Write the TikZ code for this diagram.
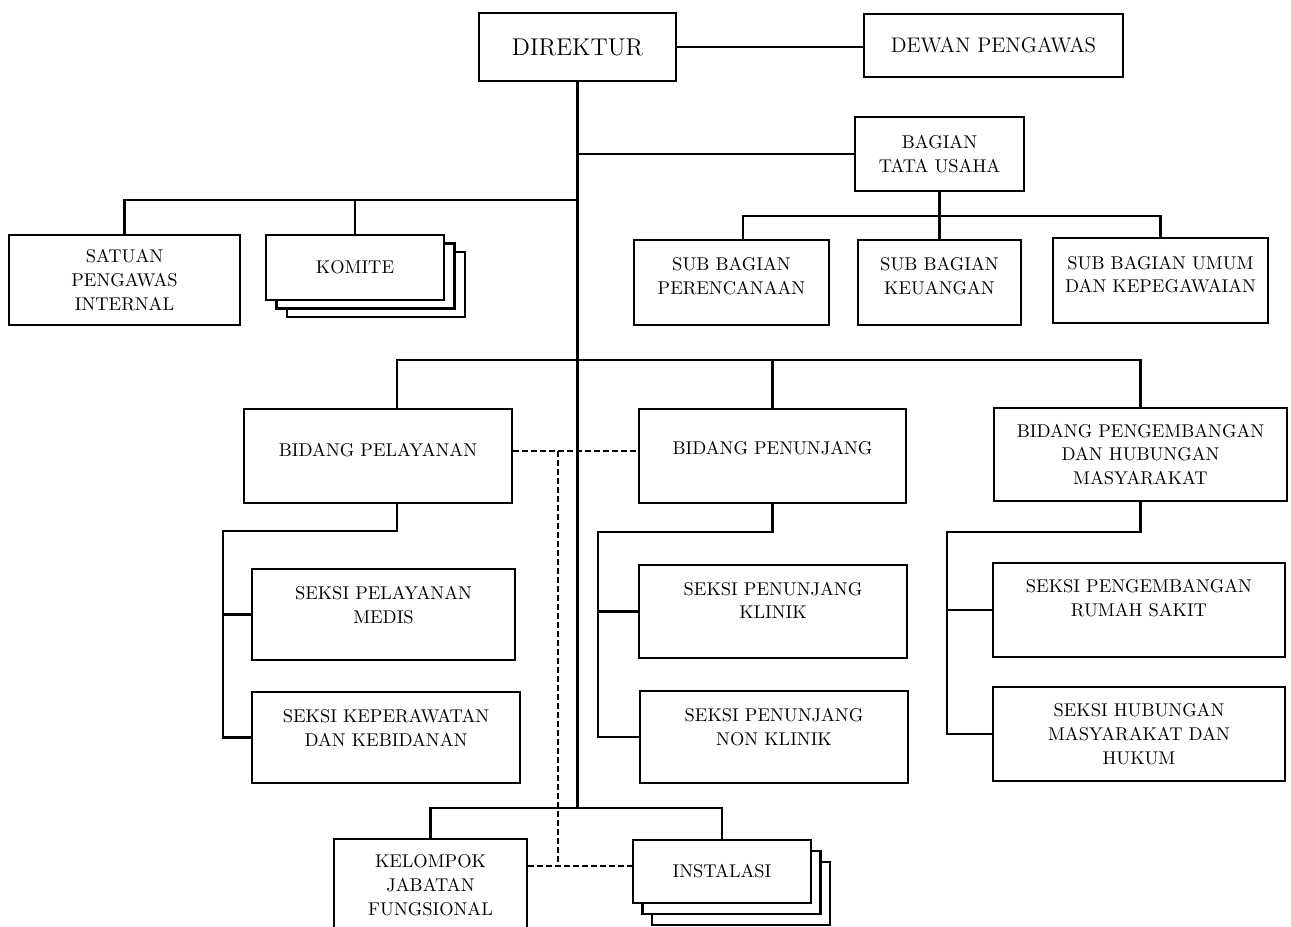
\documentclass[tikz,border=0pt]{standalone}
\usepackage{fontspec}
\usepackage{tikz}
\usetikzlibrary{calc}

\begin{document}
\begin{tikzpicture}[
      line width=1.6pt,
      box/.style={draw, fill=white, align=center, inner sep=2pt,
                  font=\fontsize{10.5}{13.5}\selectfont},
      sheet/.style={draw, fill=white},
      naik/.style={text depth=#1},
      koord/.style={line width=1.1pt, dash pattern=on 0.12cm off 0.06cm}
    ]
    \useasboundingbox (0,0) rectangle (25.82,-18.54);
    \clip (0,0) rectangle (25.82,-18.54);
    % top level
    \node[box, minimum width=3.94cm, minimum height=1.36cm,
          font=\fontsize{13.8}{16}\selectfont] (dir) at (11.55,-0.94) {DIREKTUR};
    \node[box, minimum width=5.18cm, minimum height=1.26cm,
          font=\fontsize{12}{14}\selectfont] (dewan) at (19.87,-0.91) {DEWAN PENGAWAS};
    \node[box, minimum width=3.38cm, minimum height=1.48cm] (tu) at (18.79,-3.08) {BAGIAN\\TATA USAHA};
    \node[box, naik=7.9pt, minimum width=3.9cm, minimum height=1.7cm] (sb1) at (14.63,-5.65) {SUB BAGIAN\\PERENCANAAN};
    \node[box, naik=7.9pt, minimum width=3.26cm, minimum height=1.7cm] (sb2) at (18.79,-5.65) {SUB BAGIAN\\KEUANGAN};
    \node[box, naik=6.8pt, minimum width=4.3cm, minimum height=1.7cm] (sb3) at (23.21,-5.61) {SUB BAGIAN UMUM\\DAN KEPEGAWAIAN};
    % staf
    \node[box, minimum width=4.62cm, minimum height=1.8cm] (spi) at (2.49,-5.6) {SATUAN\\PENGAWAS\\INTERNAL};
    \node[sheet, minimum width=3.56cm, minimum height=1.3cm] (kom3) at (7.52,-5.69) {};
    \node[sheet, minimum width=3.56cm, minimum height=1.3cm] (kom2) at (7.31,-5.52) {};
    \node[box, minimum width=3.56cm, minimum height=1.3cm] (kom) at (7.1,-5.35) {KOMITE};
    % bidang
    \node[box, naik=6.8pt, minimum width=5.36cm, minimum height=1.88cm] (bpel) at (7.56,-9.12) {BIDANG PELAYANAN};
    \node[box, naik=9pt, minimum width=5.34cm, minimum height=1.88cm] (bpen) at (15.45,-9.12) {BIDANG PENUNJANG};
    \node[box, minimum width=5.86cm, minimum height=1.86cm] (bpgm) at (22.81,-9.09) {BIDANG PENGEMBANGAN\\DAN HUBUNGAN\\MASYARAKAT};
    % seksi
    \node[box, naik=11.3pt, minimum width=5.26cm, minimum height=1.82cm] (s1) at (7.67,-12.29) {SEKSI PELAYANAN\\MEDIS};
    \node[box, naik=11.3pt, minimum width=5.36cm, minimum height=1.82cm] (s2) at (7.72,-14.75) {SEKSI KEPERAWATAN\\DAN KEBIDANAN};
    \node[box, naik=12.5pt, minimum width=5.36cm, minimum height=1.86cm] (s3) at (15.46,-12.23) {SEKSI PENUNJANG\\KLINIK};
    \node[box, naik=11.3pt, minimum width=5.36cm, minimum height=1.84cm] (s4) at (15.48,-14.74) {SEKSI PENUNJANG\\NON KLINIK};
    \node[box, naik=13.6pt, minimum width=5.84cm, minimum height=1.88cm] (s5) at (22.78,-12.2) {SEKSI PENGEMBANGAN\\RUMAH SAKIT};
    \node[box, minimum width=5.84cm, minimum height=1.88cm] (s6) at (22.78,-14.68) {SEKSI HUBUNGAN\\MASYARAKAT DAN\\HUKUM};
    % bottom
    \node[box, minimum width=3.86cm, minimum height=1.84cm] (kjf) at (8.61,-17.7) {KELOMPOK\\JABATAN\\FUNGSIONAL};
    \node[sheet, minimum width=3.56cm, minimum height=1.26cm] (ins3) at (14.82,-17.87) {};
    \node[sheet, minimum width=3.56cm, minimum height=1.26cm] (ins2) at (14.63,-17.65) {};
    \node[box, minimum width=3.56cm, minimum height=1.26cm] (ins) at (14.44,-17.43) {INSTALASI};

    \coordinate (kiri) at (11.55,-4.0);
    \coordinate (tubus) at (18.79,-4.32);
    \coordinate (sbatas) at ($(sb1.north)+(0.23,0)$);
    \coordinate (tengah) at (11.55,-7.2);
    \coordinate (bawah) at (11.55,-16.16);
    \coordinate (pelatas) at ($(bpel.north)+(0.38,0)$);
    \coordinate (pelbawah) at ($(bpel.south)+(0.38,0)$);
    \coordinate (relpel) at (4.46,-10.62);
    \coordinate (relpen) at (11.96,-10.64);
    \coordinate (relpgm) at (18.94,-10.64);
    \coordinate (k1) at (11.16,-9.02);
    \coordinate (k2) at (11.16,-17.32);

    % dir -> dewan, trunk
    \draw (dir.east) -- (dir.east -| dewan.west);
    \draw (dir.south) -- (bawah);
    % tata usaha
    \draw (dir.south |- tu.west) -- (tu.west);
    \draw (tu.south) -- (tubus);
    \draw (sbatas) |- (tubus) -| (sb3.north);
    \draw (tubus) -- (sb2.north);
    % staf
    \draw (spi.north) |- (kiri);
    \draw (kom.north) -- (kom.north |- kiri);
    % bidang
    \draw (pelatas) |- (tengah) -| (bpgm.north);
    \draw (bpen.north) -- (bpen.north |- tengah);
    \draw (pelbawah) |- (relpel) |- (s2.west);
    \draw (s1.west) -- (s1.west -| relpel);
    \draw (bpen.south) |- (relpen) |- (s4.west);
    \draw (s3.west) -- (s3.west -| relpen);
    \draw (bpgm.south) |- (relpgm) |- (s6.west);
    \draw (s5.west) -- (s5.west -| relpgm);
    % kelompok + instalasi
    \draw (kjf.north) |- (bawah) -| (ins.north);
    % coordination
    \draw[koord] (bpel.east |- k1) -- (bpen.west |- k1);
    \draw[koord] (k1) -- (k2);
    \draw[koord] (kjf.east |- k2) -- (ins.west |- k2);
  \end{tikzpicture}
\end{document}
